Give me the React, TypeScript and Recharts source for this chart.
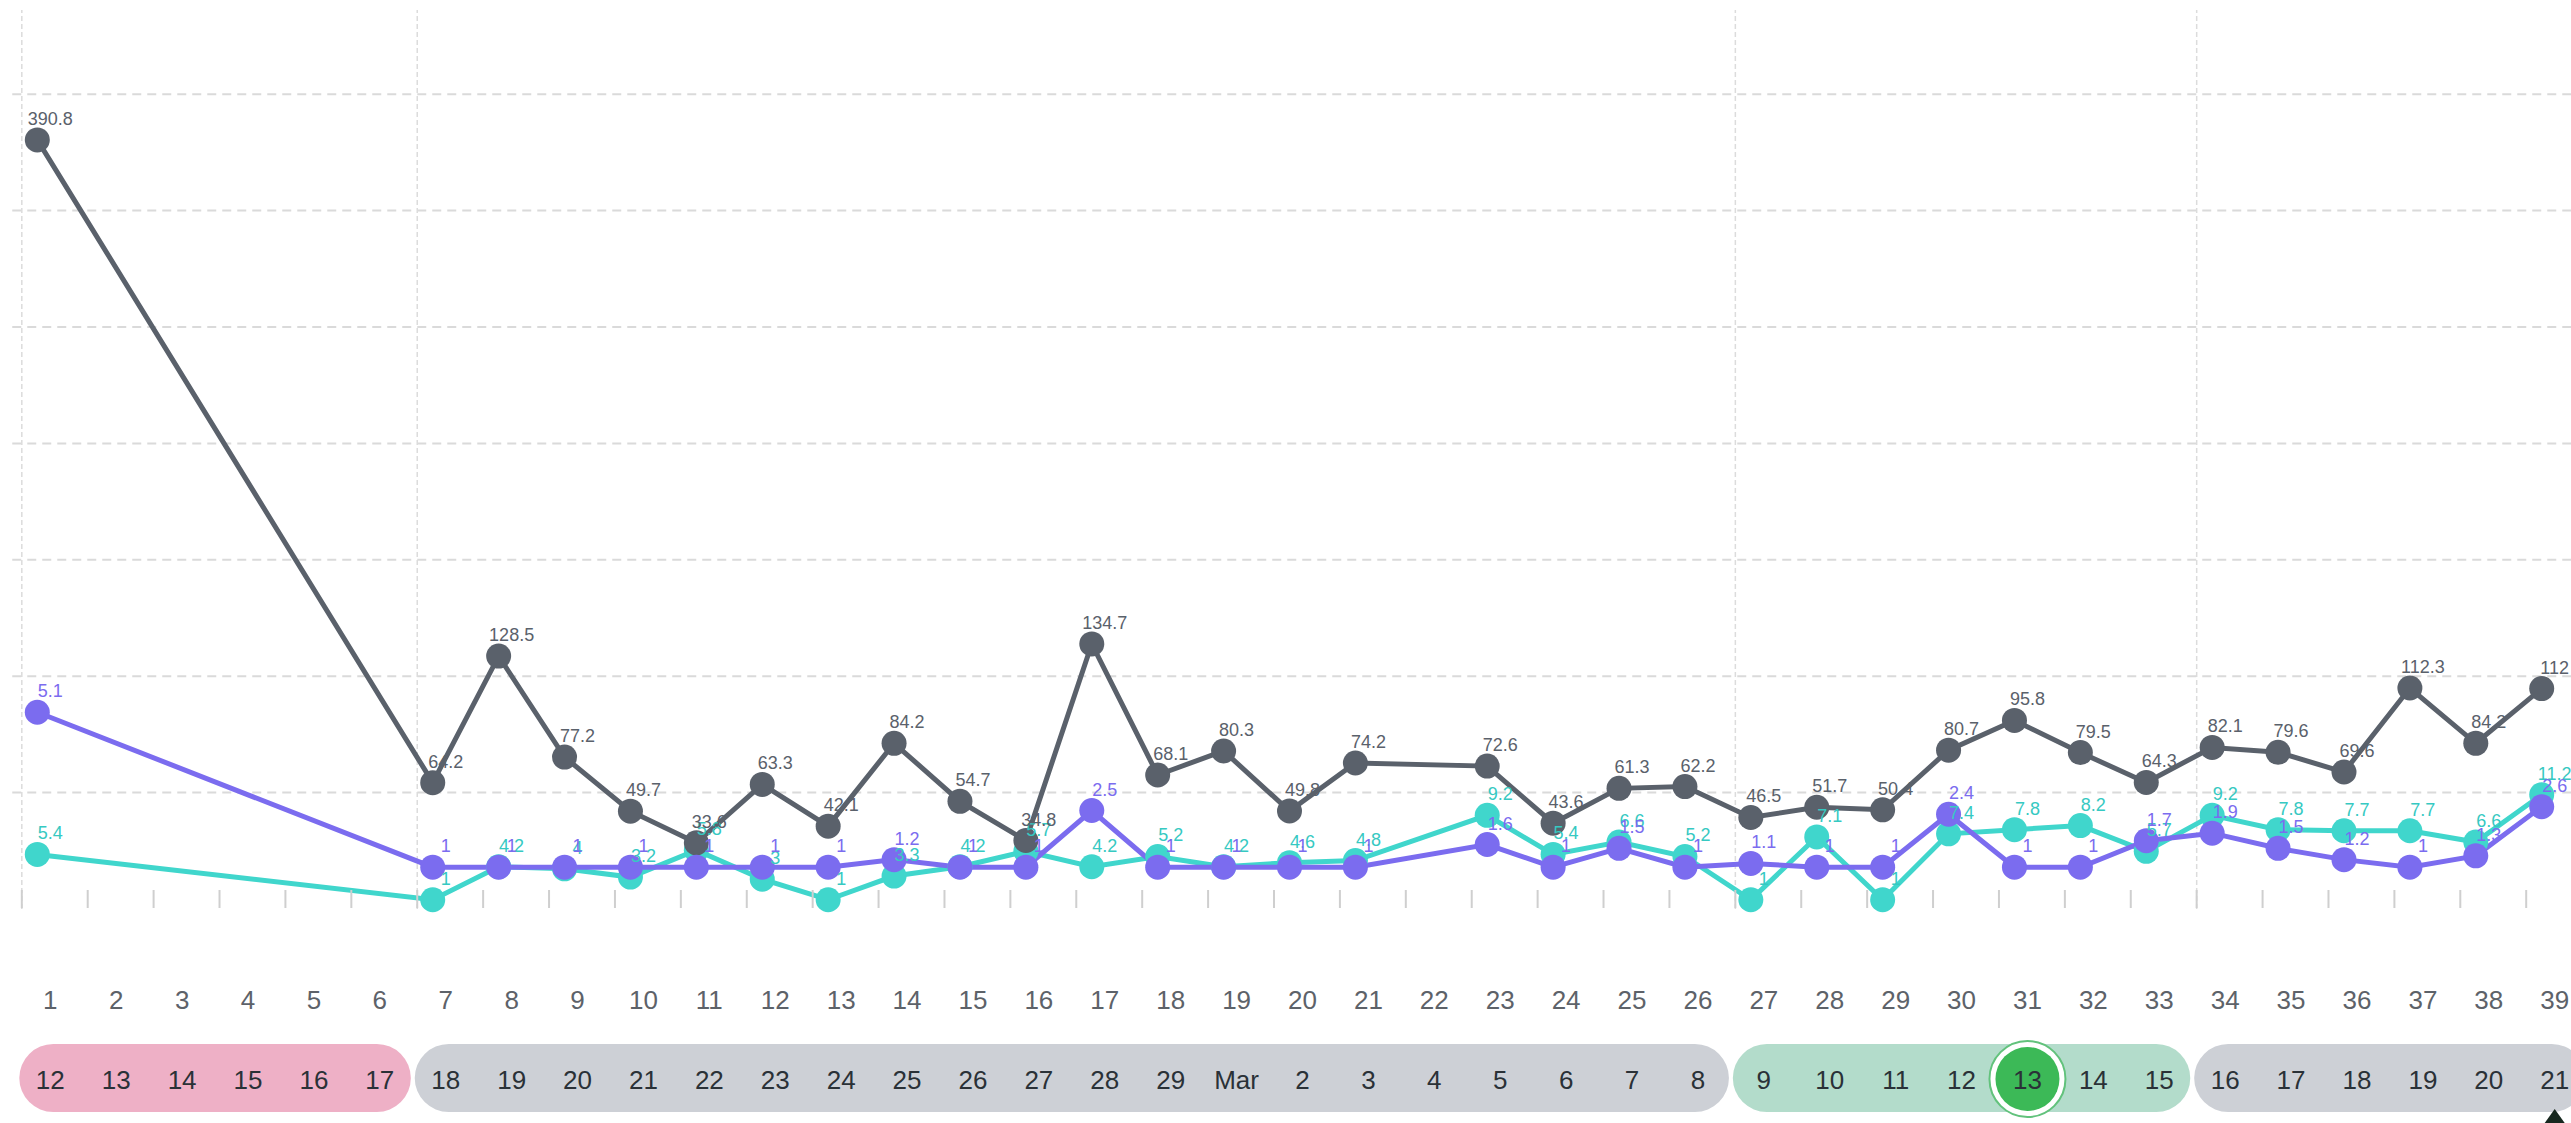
import { LineChart, Line, XAxis, YAxis, ReferenceLine, LabelList } from 'recharts'

// day index on the timeline
const days = [1, 2, 3, 4, 5, 6, 7, 8, 9, 10, 11, 12, 13, 14, 15, 16, 17, 18, 19, 20,
  21, 22, 23, 24, 25, 26, 27, 28, 29, 30, 31, 32, 33, 34, 35, 36, 37, 38, 39]

// dates shown in the week pills
const dateLabels = ['12', '13', '14', '15', '16', '17', '18', '19', '20', '21', '22', '23', '24',
  '25', '26', '27', '28', '29', 'Mar', '2', '3', '4', '5', '6', '7', '8', '9', '10', '11', '12',
  '13', '14', '15', '16', '17', '18', '19', '20', '21']

const volume = [390.8, null, null, null, null, null, 64.2, 128.5, 77.2, 49.7, 33.6, 63.3, 42.1,
  84.2, 54.7, 34.8, 134.7, 68.1, 80.3, 49.8, 74.2, null, 72.6, 43.6, 61.3, 62.2, 46.5, 51.7,
  50.4, 80.7, 95.8, 79.5, 64.3, 82.1, 79.6, 69.6, 112.3, 84.2, 112]

const sets = [5.1, null, null, null, null, null, 1, 1, 1, 1, 1, 1, 1, 1.2, 1, 1, 2.5, 1, 1, 1, 1,
  null, 1.6, 1, 1.5, 1, 1.1, 1, 1, 2.4, 1, 1, 1.7, 1.9, 1.5, 1.2, 1, 1.3, 2.6]

const reps = [5.4, null, null, null, null, null, 1, 4.2, 4, 3.2, 5.8, 3, 1, 3.3, 4.2, 5.7, 4.2,
  5.2, 4.2, 4.6, 4.8, null, 9.2, 5.4, 6.6, 5.2, 1, 7.1, 1, 7.4, 7.8, 8.2, 5.7, 9.2, 7.8, 7.7,
  7.7, 6.6, 11.2]

// weeks (pill groups)
const weekStarts = [1, 7, 27, 34]
const weekEnds = [6, 26, 33, 39]
const weekColors = ['#eeb0c6', '#cdd0d6', '#b3dccb', '#cdd0d6']
const today = 31
const gridLevels = [1, 2, 3, 4, 5, 6, 7]

const W = 2571
const H = 1123
const M_LEFT = 37.3
const M_RIGHT = 29.3
const STEP = (W - M_LEFT - M_RIGHT) / (days.length - 1)
const LABEL_DX = 13
const VOLUME_MAX = 456.8
const GRID_UNIT = VOLUME_MAX / 7.723

const GRAY = '#5a616b'
const PURPLE = '#7b6cef'
const TEAL = '#40d6cc'

const data = days.map((d, i) => ({
  day: d,
  volume: volume[i],
  sets: sets[i],
  reps: reps[i],
}))

function DayTick({ x, y, payload }: any) {
  const d = payload.value
  const i = days.indexOf(d)
  const lx = x + LABEL_DX
  const w = weekStarts.indexOf(d)
  return (
    <g>
      <line x1={x - 15.5} x2={x - 15.5} y1={y - 19} y2={y - 1} stroke='#cfcfcf' strokeWidth={2} />
      <text x={lx} y={y + 91} textAnchor='middle' dominantBaseline='central' fontSize={26} fill='#5d6269'>
        {d}
      </text>
      {w >= 0 && (
        <rect
          x={lx - 31}
          y={y + 135}
          width={(weekEnds[w] - d) * STEP + 62}
          height={68}
          rx={34}
          fill={weekColors[w]}
        />
      )}
      {d === today && (
        <g>
          <circle cx={lx} cy={y + 170} r={38} fill='#ffffff' stroke='#62c27c' strokeWidth={2} />
          <circle cx={lx} cy={y + 170} r={32} fill='#3cb957' />
        </g>
      )}
      <text x={lx} y={y + 171} textAnchor='middle' dominantBaseline='central' fontSize={26} fill='#2a3137'>
        {dateLabels[i]}
      </text>
      {i === days.length - 1 && (
        <polygon points={`${lx - 10},${y + 214} ${lx + 10},${y + 214} ${lx},${y + 200}`} fill='#17281f' />
      )}
    </g>
  )
}

const valueLabel = (color: string) => (props: any) => {
  const { x, y, value } = props
  if (value == null || x == null) return null
  return (
    <text x={x + LABEL_DX} y={y - 21} textAnchor='middle' dominantBaseline='central' fontSize={18} fill={color}>
      {value}
    </text>
  )
}

export default function App() {
  return (
    <div
      style={{
        position: 'absolute',
        left: 0,
        top: 0,
        width: W,
        height: H,
        background: '#fff',
        fontFamily: '"Liberation Sans", Arial, sans-serif',
      }}
    >
      <LineChart width={W} height={H} data={data} margin={{ top: 10, right: M_RIGHT, left: M_LEFT, bottom: 0 }}>
        <XAxis
          dataKey='day'
          type='number'
          domain={[1, 39]}
          ticks={days}
          interval={0}
          height={214}
          tickSize={0}
          tickMargin={0}
          axisLine={false}
          tickLine={false}
          tick={(p: any) => <DayTick {...p} />}
        />
        <YAxis yAxisId='volume' hide domain={[0, VOLUME_MAX]} />
        <YAxis yAxisId='sets' hide domain={[-0.106, 23.68]} />
        <YAxis yAxisId='reps' hide domain={[0.1, 87.4]} />

        {gridLevels.map((g) => (
          <ReferenceLine
            key={'h' + g}
            yAxisId='volume'
            ifOverflow='visible'
            segment={[{ x: 0.62, y: g * GRID_UNIT }, { x: 39.45, y: g * GRID_UNIT }]}
            stroke='#dadada'
            strokeWidth={2}
            strokeDasharray='9 6'
          />
        ))}
        {weekStarts.map((s) => (
          <ReferenceLine
            key={'v' + s}
            yAxisId='volume'
            x={s - 0.235}
            ifOverflow='visible'
            stroke='#dcdcdc'
            strokeWidth={1.5}
            strokeDasharray='5 3'
          />
        ))}

        <Line
          yAxisId='reps'
          dataKey='reps'
          stroke={TEAL}
          strokeWidth={5}
          connectNulls
          dot={{ r: 12.5, fill: TEAL, stroke: TEAL, strokeWidth: 0 }}
          activeDot={false}
          isAnimationActive={false}
        >
          <LabelList dataKey='reps' content={valueLabel('#36c9c2')} />
        </Line>
        <Line
          yAxisId='volume'
          dataKey='volume'
          stroke={GRAY}
          strokeWidth={5}
          connectNulls
          dot={{ r: 12.5, fill: GRAY, stroke: GRAY, strokeWidth: 0 }}
          activeDot={false}
          isAnimationActive={false}
        >
          <LabelList dataKey='volume' content={valueLabel('#5a616b')} />
        </Line>
        <Line
          yAxisId='sets'
          dataKey='sets'
          stroke={PURPLE}
          strokeWidth={5}
          connectNulls
          dot={{ r: 12.5, fill: PURPLE, stroke: PURPLE, strokeWidth: 0 }}
          activeDot={false}
          isAnimationActive={false}
        >
          <LabelList dataKey='sets' content={valueLabel(PURPLE)} />
        </Line>
      </LineChart>
    </div>
  )
}
